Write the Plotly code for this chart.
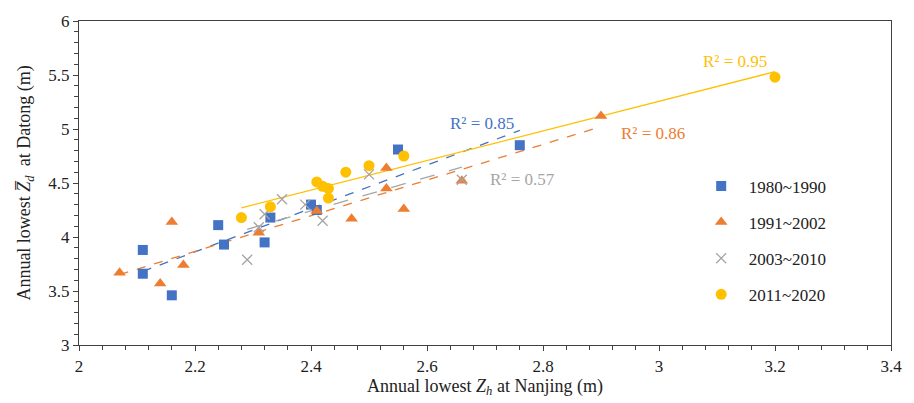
import numpy as np
import plotly.graph_objects as go

# Data (Nanjing x, Datong y)
x_80s = [2.11, 2.11, 2.16, 2.24, 2.25, 2.32, 2.33, 2.40, 2.41, 2.55, 2.76]
y_80s = [3.88, 3.66, 3.46, 4.11, 3.93, 3.95, 4.18, 4.30, 4.25, 4.81, 4.85]

x_90s = [2.07, 2.14, 2.16, 2.18, 2.31, 2.41, 2.47, 2.53, 2.53, 2.56, 2.66, 2.90]
y_90s = [3.67, 3.57, 4.14, 3.74, 4.04, 4.24, 4.17, 4.45, 4.64, 4.26, 4.52, 5.12]

x_00s = [2.29, 2.31, 2.32, 2.35, 2.39, 2.42, 2.50, 2.66]
y_00s = [3.79, 4.09, 4.21, 4.35, 4.30, 4.15, 4.58, 4.53]

x_10s = [2.28, 2.33, 2.41, 2.42, 2.43, 2.43, 2.46, 2.50, 2.56, 3.20]
y_10s = [4.18, 4.28, 4.51, 4.47, 4.45, 4.36, 4.60, 4.66, 4.75, 5.48]

names = ["1980~1990", "1991~2002", "2003~2010", "2011~2020"]
r2_labels = ["R² = 0.85", "R² = 0.86", "R² = 0.57", "R² = 0.95"]
r2_pos = [(2.695, 5.05), (2.989, 4.955), (2.764, 4.53), (3.131, 5.627)]

colors = ["#4472C4", "#ED7D31", "#A5A5A5", "#FFC000"]
symbols = ["square", "triangle-up", "x-thin-open", "circle"]
msizes = [10, 11, 10, 11]
dashes = ["dash", "dash", "longdash", "solid"]

series = [(x_80s, y_80s), (x_90s, y_90s), (x_00s, y_00s), (x_10s, y_10s)]

font_family = "Liberation Serif, Times New Roman, serif"

fig = go.Figure()
for i, (xs, ys) in enumerate(series):
    xs_a = np.array(xs)
    ys_a = np.array(ys)
    k, b = np.polyfit(xs_a, ys_a, 1)
    xl = np.array([xs_a.min(), xs_a.max()])
    fig.add_trace(go.Scatter(
        x=xl, y=k * xl + b, mode="lines",
        line=dict(color=colors[i], width=1.3, dash=dashes[i]),
        showlegend=False, hoverinfo="skip"))

for i, (xs, ys) in enumerate(series):
    mk = dict(color=colors[i], size=msizes[i], symbol=symbols[i])
    if symbols[i] == "x-thin-open":
        mk["line"] = dict(color=colors[i], width=1.3)
    fig.add_trace(go.Scatter(
        x=xs, y=ys, mode="markers", name=names[i], marker=mk,
        legendgroup=names[i]))

for i, lab in enumerate(r2_labels):
    fig.add_annotation(x=r2_pos[i][0], y=r2_pos[i][1], text=lab, showarrow=False,
                       font=dict(family=font_family, size=17, color=colors[i]),
                       xanchor="center", yanchor="middle")

axis_common = dict(
    showline=True, linecolor="#404040", linewidth=1.3, mirror=True,
    ticks="outside", ticklen=5, tickwidth=1, tickcolor="#404040",
    showgrid=False, zeroline=False,
    tickfont=dict(family=font_family, size=17, color="#222"),
)

fig.update_xaxes(range=[2, 3.4], dtick=0.2, tick0=2,
                 minor=dict(ticks="outside", dtick=0.04, ticklen=4, tickcolor="#404040"),
                 title=dict(text="Annual lowest <i>Z</i><sub><i>h</i></sub> at Nanjing (m)",
                            font=dict(family=font_family, size=18, color="#222"), standoff=2),
                 **axis_common)
fig.update_yaxes(range=[3, 6], dtick=0.5, tick0=3,
                 minor=dict(ticks="outside", dtick=0.1, ticklen=4, tickcolor="#404040"),
                 title=dict(text="Annual lowest <i>Z\u0305</i><sub><i>d</i></sub>  at Datong (m)",
                            font=dict(family=font_family, size=18, color="#222"), standoff=12),
                 **axis_common)

fig.update_layout(
    width=914, height=403,
    margin=dict(l=79, r=15, t=15, b=58),
    plot_bgcolor="white", paper_bgcolor="white",
    legend=dict(x=0.757, y=0.545, xanchor="left", yanchor="top",
                font=dict(family=font_family, size=17, color="#222"),
                tracegroupgap=11, bgcolor="rgba(0,0,0,0)", traceorder="grouped",
                itemwidth=45),
)

fig.write_html("out.html")
